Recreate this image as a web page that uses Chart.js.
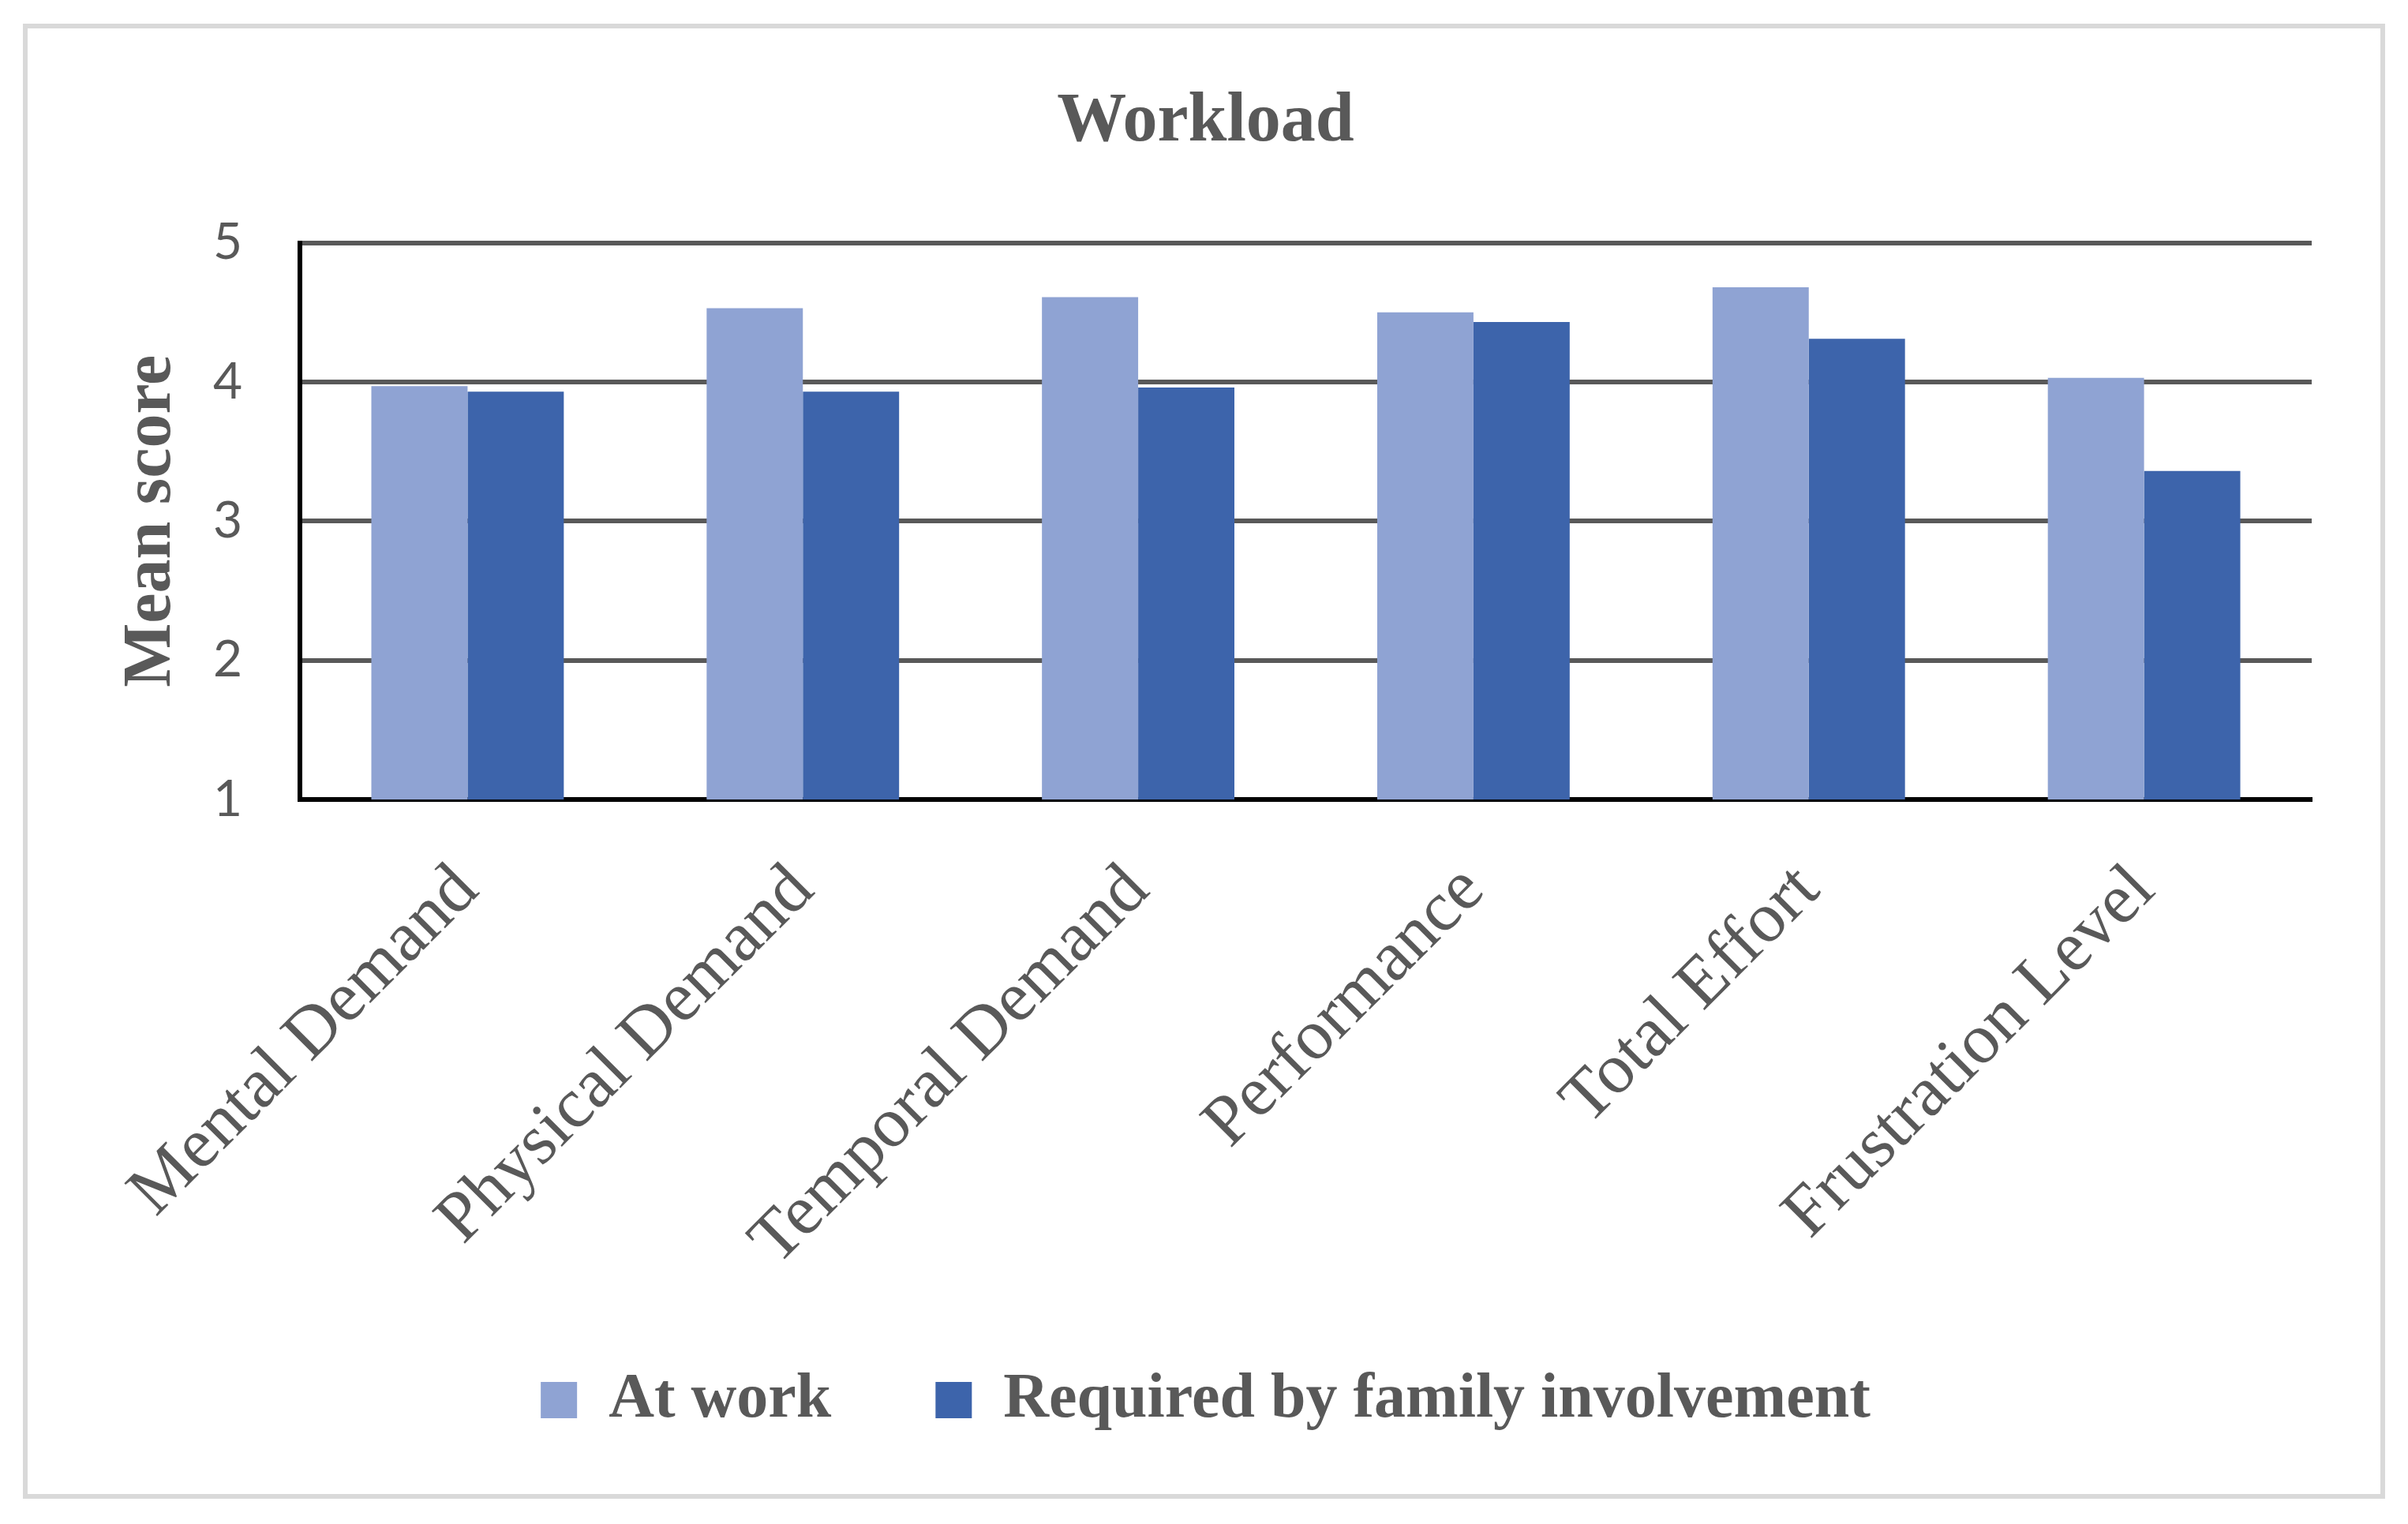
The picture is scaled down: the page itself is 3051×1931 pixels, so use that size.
<!DOCTYPE html>
<html>
<head>
<meta charset="utf-8">
<script src="https://cdn.jsdelivr.net/npm/chart.js@4.4.0/dist/chart.umd.min.js"></script>
<style>
  html, body { margin: 0; padding: 0; background: #fff; }
  #wrap { width: 3051px; height: 1931px; }
</style>
</head>
<body>
<div id="wrap"><canvas id="workloadChart" width="3051" height="1931"></canvas></div>
<script>
// Data
let categories = [
  "Mental Demand",
  "Physical Demand",
  "Temporal Demand",
  "Performance",
  "Total Effort",
  "Frustration Level",
];
let atWork = [3.97, 4.53, 4.61, 4.5, 4.68, 4.03];
let familyInvolvement = [3.93, 3.93, 3.96, 4.43, 4.31, 3.36];
let yTicks = [1, 2, 3, 4, 5];

let textGray = "#595959";
let serif = "'Liberation Serif', 'DejaVu Serif', serif";

// white page + light gray frame around the chart
let framePlugin = {
  id: "frame",
  beforeDraw(chart) {
    let ctx = chart.ctx;
    ctx.save();
    ctx.fillStyle = "#ffffff";
    ctx.fillRect(0, 0, chart.width, chart.height);
    ctx.strokeStyle = "#d9d9d9";
    ctx.lineWidth = 6;
    ctx.strokeRect(32, 33, 2987, 1863);
    ctx.restore();
  },
};

let ctx = document.getElementById("workloadChart").getContext("2d");

new Chart(ctx, {
  type: "bar",
  data: {
    labels: categories,
    datasets: [
      {
        label: "At work",
        data: atWork,
        backgroundColor: "#8fa3d3",
        borderWidth: 0,
      },
      {
        label: "Required by family involvement",
        data: familyInvolvement,
        backgroundColor: "#3d64ab",
        borderWidth: 0,
      },
    ],
  },
  plugins: [framePlugin],
  options: {
    responsive: false,
    animation: false,
    devicePixelRatio: 1,
    categoryPercentage: 0.574,
    barPercentage: 1,
    layout: {
      padding: { top: 30, left: 126, right: 122, bottom: 107 },
    },
    plugins: {
      title: {
        display: true,
        text: "Workload",
        color: textGray,
        font: { family: serif, size: 88, weight: "bold" },
        padding: { top: 72, bottom: 100 },
      },
      legend: {
        position: "bottom",
        labels: {
          color: textGray,
          font: { family: serif, size: 80, weight: "bold" },
          boxWidth: 46,
          boxHeight: 46,
          padding: 132,
        },
      },
      tooltip: { enabled: false },
    },
    scales: {
      x: {
        grid: { display: false },
        border: { display: true, color: "#000000", width: 6 },
        ticks: {
          color: textGray,
          font: { family: serif, size: 90 },
          minRotation: 45,
          maxRotation: 45,
          autoSkip: false,
          padding: 55,
        },
        afterFit(scale) {
          scale.height = 589;
        },
      },
      y: {
        min: 1,
        max: 5,
        afterBuildTicks(scale) {
          scale.ticks = yTicks.map((v) => ({ value: v }));
        },
        grid: { color: "#595959", lineWidth: 6, drawTicks: false },
        border: { display: true, color: "#000000", width: 6 },
        ticks: {
          color: textGray,
          font: { family: "Lato, 'Open Sans', sans-serif", size: 64 },
          padding: 73,
        },
        title: {
          display: true,
          text: "Mean score",
          color: textGray,
          font: { family: serif, size: 86, weight: "bold" },
          padding: { top: 15, bottom: 0 },
        },
        afterFit(scale) {
          scale.width = 254;
        },
      },
    },
  },
});
</script>
</body>
</html>
